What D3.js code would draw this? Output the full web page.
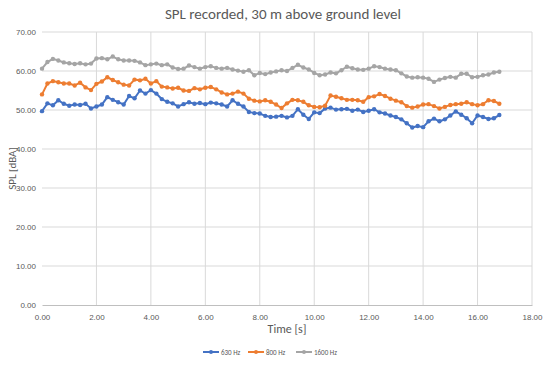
<!DOCTYPE html>
<html>
<head>
<meta charset="utf-8">
<script src="https://cdn.jsdelivr.net/npm/d3@7"></script>
<style>
body { margin: 0; background: #fff; }
svg { font-family: Calibri, Carlito, "Liberation Sans", "Open Sans", sans-serif; }
</style>
</head>
<body>
<svg width="550" height="365"></svg>
<script>
// time axis, 0.2 s step
var times = [];
for (var i = 0; i <= 84; i++) times.push(+(i * 0.2).toFixed(1));

var hz630 = [49.7,51.7,51.2,52.5,51.6,51.1,51.4,51.3,51.6,50.4,
	50.9,51.4,53.3,52.6,52.0,51.4,53.6,53.0,55.0,54.2,
	55.1,54.2,52.8,52.1,51.7,50.9,51.5,52.0,51.6,51.8,
	51.5,51.9,51.7,51.4,50.9,52.5,51.6,50.9,49.5,49.2,
	49.1,48.5,48.2,48.3,48.5,48.1,48.5,50.2,48.8,47.7,
	49.4,49.2,50.4,50.6,50.1,50.2,50.3,49.8,50.1,49.5,
	49.8,50.2,49.4,49.1,48.6,48.2,47.6,46.6,45.5,45.9,
	45.6,47.1,47.8,47.1,47.6,48.6,49.6,48.8,47.9,46.6,
	48.6,48.2,47.7,47.9,48.7];

var hz800 = [54.0,56.8,57.4,57.1,56.8,56.8,56.3,57.0,55.8,55.1,
	56.7,57.3,58.4,57.7,57.1,56.5,56.3,57.8,57.6,58.0,
	56.8,57.4,56.0,55.8,55.5,55.7,55.0,54.9,55.6,55.3,
	55.7,55.9,55.3,54.5,54.0,54.2,54.7,54.2,52.9,52.4,
	52.2,52.5,52.1,51.4,50.5,51.7,52.6,52.5,52.1,51.2,
	50.8,50.7,51.1,53.7,53.4,53.0,52.6,52.6,52.5,52.1,
	53.3,53.5,54.1,53.6,52.9,52.4,52.0,51.0,50.6,50.9,
	51.4,51.5,51.0,50.4,50.8,51.3,51.5,51.6,52.0,51.5,
	51.2,51.5,52.5,52.3,51.6];

var hz1600 = [60.6,62.3,63.1,62.7,62.2,62.0,61.8,62.0,61.7,61.9,
	63.2,63.3,63.0,63.7,63.0,62.7,62.7,62.6,62.2,61.5,
	61.7,61.9,61.5,61.7,60.9,60.5,60.6,61.4,61.0,60.6,
	61.0,61.2,60.8,60.6,60.8,60.4,60.1,59.8,60.2,58.9,
	59.5,59.2,59.6,59.9,60.2,60.0,60.8,61.6,60.9,60.4,
	59.5,58.9,59.1,59.6,59.4,60.2,61.1,60.7,60.4,60.3,
	60.6,61.2,61.0,60.6,60.4,60.2,59.4,58.6,58.3,58.4,
	58.3,58.0,57.2,57.8,58.2,58.5,58.3,59.3,59.3,58.4,
	58.5,58.9,59.1,59.6,59.8];

var seriesNames = ["630 Hz", "800 Hz", "1600 Hz"];
var seriesColors = ["#4472C4", "#ED7D31", "#A5A5A5"];
var xTicks = [0, 2, 4, 6, 8, 10, 12, 14, 16, 18];
var yTicks = [0, 10, 20, 30, 40, 50, 60, 70];

var svg = d3.select("svg"),
	margin = {top: 32, right: 18, bottom: 60, left: 42},
	width = +svg.attr("width") - margin.left - margin.right,
	height = +svg.attr("height") - margin.top - margin.bottom;

var x = d3.scaleLinear().domain([0, 18]).range([0, width]);
var y = d3.scaleLinear().domain([0, 70]).range([height, 0]);

var g = svg.append("g").attr("transform", "translate(" + margin.left + "," + margin.top + ")");

// grid
g.append("g").selectAll("line").data(yTicks.slice(1)).enter().append("line")
	.attr("x1", 0).attr("x2", width)
	.attr("y1", function(d) { return y(d); }).attr("y2", function(d) { return y(d); })
	.attr("stroke", "#d9d9d9").attr("stroke-width", 1);
g.append("g").selectAll("line").data(xTicks.slice(1)).enter().append("line")
	.attr("x1", function(d) { return x(d); }).attr("x2", function(d) { return x(d); })
	.attr("y1", 0).attr("y2", height)
	.attr("stroke", "#d9d9d9").attr("stroke-width", 1);

// axes
var xAxis = g.append("g").attr("transform", "translate(0," + height + ")")
	.call(d3.axisBottom(x).tickValues(xTicks).tickFormat(d3.format(".2f")).tickSize(0).tickPadding(9));
xAxis.select(".domain").attr("stroke", "#bfbfbf");
var yAxis = g.append("g")
	.call(d3.axisLeft(y).tickValues(yTicks).tickFormat(d3.format(".2f")).tickSize(0).tickPadding(6));
yAxis.select(".domain").remove();
svg.selectAll(".tick text").attr("fill", "#595959").style("font-size", "8px");

// series
var allSeries = [hz630, hz800, hz1600];
var line = d3.line()
	.x(function(d, i) { return x(times[i]); })
	.y(function(d) { return y(d); });

allSeries.forEach(function(vals, k) {
	g.append("path").datum(vals)
		.attr("fill", "none")
		.attr("stroke", seriesColors[k])
		.attr("stroke-width", 2)
		.attr("d", line);
	g.append("g").selectAll("circle").data(vals).enter().append("circle")
		.attr("cx", function(d, i) { return x(times[i]); })
		.attr("cy", function(d) { return y(d); })
		.attr("r", 2.2)
		.attr("fill", seriesColors[k]);
});

// titles
svg.append("text").attr("x", 283).attr("y", 19)
	.attr("text-anchor", "middle").attr("fill", "#595959")
	.style("font-size", "15px").text("SPL recorded, 30 m above ground level");
svg.append("text").attr("x", margin.left + width / 2).attr("y", 333)
	.attr("text-anchor", "middle").attr("fill", "#595959")
	.style("font-size", "12px").text("Time [s]");
svg.append("text")
	.attr("transform", "translate(16," + (margin.top + height / 2) + ") rotate(-90)")
	.attr("text-anchor", "middle").attr("fill", "#595959")
	.style("font-size", "11px").text("SPL [dBA]");

// legend
var legendX = [203, 248, 296];
var legend = svg.append("g").selectAll("g").data(seriesNames).enter().append("g")
	.attr("transform", function(d, i) { return "translate(" + legendX[i] + ",352)"; });
legend.append("line").attr("x1", 0).attr("x2", 16).attr("y1", 0).attr("y2", 0)
	.attr("stroke", function(d, i) { return seriesColors[i]; }).attr("stroke-width", 2);
legend.append("circle").attr("cx", 8).attr("cy", 0).attr("r", 2)
	.attr("fill", function(d, i) { return seriesColors[i]; });
legend.append("text").attr("x", 18).attr("y", 2.5)
	.attr("fill", "#595959").style("font-size", "7px")
	.text(function(d) { return d; });
</script>
</body>
</html>
